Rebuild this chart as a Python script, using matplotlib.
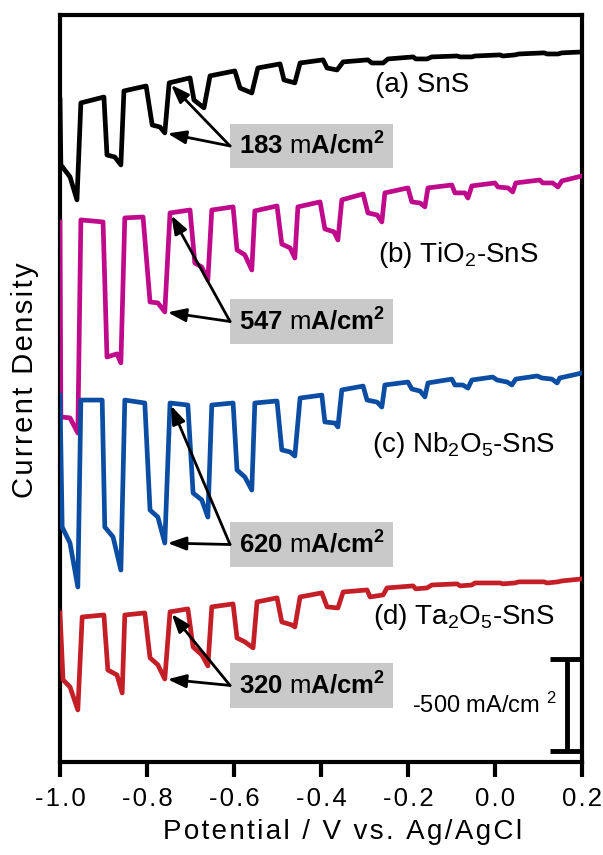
import matplotlib.pyplot as plt
from matplotlib.patches import Rectangle

plt.rcParams['font.family'] = ['Liberation Sans', 'DejaVu Sans']
plt.rcParams['mathtext.fontset'] = 'custom'
plt.rcParams['mathtext.rm'] = 'Liberation Sans'
plt.rcParams['mathtext.it'] = 'Liberation Sans:italic'
plt.rcParams['mathtext.bf'] = 'Liberation Sans:bold'
plt.rcParams['axes.unicode_minus'] = False

# chopped-light scans, potential (V vs Ag/AgCl) and current (mA/cm2, relative to dark level at 0.2 V)
pot_a = [-1.000, -0.998, -0.977, -0.961, -0.952, -0.899, -0.892, -0.874, -0.860, -0.853,
         -0.802, -0.788, -0.770, -0.759, -0.749, -0.701, -0.692, -0.669, -0.655, -0.598,
         -0.586, -0.559, -0.545, -0.494, -0.485, -0.460, -0.448, -0.395, -0.386, -0.363,
         -0.349, -0.292, -0.283, -0.257, -0.246, -0.188, -0.182, -0.156, -0.145, -0.087,
         -0.080, -0.053, -0.046, 0.012, 0.018, 0.046, 0.055, 0.113, 0.120, 0.145, 0.154, 0.200]
cur_a = [-261, -614, -679, -804, -277, -245, -560, -571, -614, -212,
         -185, -397, -408, -440, -168, -141, -261, -304, -130, -103,
         -196, -223, -87, -65, -152, -168, -60, -43, -87, -98,
         -54, -43, -60, -60, -38, -27, -38, -38, -27, -22,
         -27, -27, -22, -16, -22, -16, -11, -5, -11, -11, -5, 0]

pot_b = [-1.000, -0.998, -0.977, -0.959, -0.952, -0.901, -0.892, -0.869, -0.860, -0.851,
         -0.809, -0.793, -0.775, -0.759, -0.747, -0.701, -0.690, -0.674, -0.660, -0.651,
         -0.602, -0.593, -0.575, -0.559, -0.552, -0.501, -0.490, -0.471, -0.460, -0.453,
         -0.402, -0.391, -0.370, -0.361, -0.352, -0.303, -0.292, -0.271, -0.260, -0.253,
         -0.200, -0.191, -0.172, -0.161, -0.154, -0.099, -0.092, -0.069, -0.062, -0.053,
         0.000, 0.007, 0.030, 0.041, 0.048, 0.103, 0.110, 0.133, 0.145, 0.154, 0.200]
cur_b = [-250, -1310, -1315, -1397, -239, -250, -984, -967, -1016, -228,
         -223, -685, -690, -739, -201, -185, -473, -495, -565, -185,
         -168, -402, -429, -511, -190, -163, -370, -391, -446, -168,
         -141, -288, -304, -348, -130, -98, -201, -212, -250, -92,
         -65, -141, -147, -168, -65, -49, -92, -92, -120, -54,
         -38, -60, -65, -87, -38, -22, -38, -38, -60, -27, 0]

pot_c = [-1.000, -0.995, -0.977, -0.959, -0.952, -0.903, -0.897, -0.878, -0.860, -0.851,
         -0.805, -0.793, -0.775, -0.759, -0.747, -0.706, -0.694, -0.674, -0.660, -0.651,
         -0.602, -0.593, -0.575, -0.559, -0.552, -0.501, -0.490, -0.471, -0.460, -0.448,
         -0.398, -0.391, -0.368, -0.361, -0.352, -0.303, -0.294, -0.271, -0.260, -0.253,
         -0.200, -0.191, -0.172, -0.161, -0.154, -0.099, -0.092, -0.074, -0.062, -0.053,
         -0.005, 0.005, 0.028, 0.039, 0.048, 0.097, 0.108, 0.131, 0.143, 0.149, 0.200]
cur_c = [-120, -837, -924, -1163, -147, -147, -837, -891, -1071, -147,
         -163, -745, -783, -924, -163, -174, -652, -690, -783, -174,
         -163, -527, -565, -636, -163, -152, -418, -429, -451, -136,
         -120, -266, -272, -293, -92, -71, -147, -158, -185, -65,
         -49, -87, -98, -130, -54, -33, -65, -65, -82, -38,
         -22, -38, -49, -65, -33, -16, -27, -33, -54, -27, 0]

pot_d = [-1.000, -0.993, -0.977, -0.959, -0.949, -0.899, -0.890, -0.869, -0.857, -0.851,
         -0.805, -0.793, -0.775, -0.759, -0.747, -0.706, -0.694, -0.674, -0.660, -0.651,
         -0.602, -0.593, -0.575, -0.556, -0.547, -0.501, -0.490, -0.467, -0.460, -0.448,
         -0.398, -0.386, -0.361, -0.349, -0.294, -0.287, -0.257, -0.248, -0.188, -0.182,
         -0.156, -0.145, -0.087, -0.080, -0.053, -0.046, 0.012, 0.018, 0.046, 0.055,
         0.113, 0.120, 0.145, 0.154, 0.200]
cur_d = [-185, -549, -587, -712, -207, -196, -495, -522, -620, -196,
         -185, -429, -467, -544, -179, -163, -370, -413, -473, -152,
         -136, -321, -342, -375, -125, -103, -234, -250, -261, -98,
         -76, -152, -158, -71, -60, -98, -87, -49, -38, -54,
         -49, -33, -27, -38, -33, -22, -22, -27, -22, -16,
         -16, -22, -16, -11, 0]

potentials = [pot_a, pot_b, pot_c, pot_d]
currents = [cur_a, cur_b, cur_c, cur_d]
offsets = [3859, 3185, 2114, 995]
names = ['(a) SnS', '(b) TiO$_2$-SnS', '(c) Nb$_2$O$_5$-SnS', '(d) Ta$_2$O$_5$-SnS']
photocurrent = [183, 547, 620, 320]
colors = ['#000000', '#bf0a8b', '#0b4da2', '#c41e26']
scale_bar = 500
xticks = [-1.0, -0.8, -0.6, -0.4, -0.2, 0.0, 0.2]

# placement of labels / boxes, relative to each trace's offset
name_pos = [(-0.276, -180), (-0.269, -429), (-0.283, -391), (-0.281, -207)]
box_y = [-511, -791, -932, -579]
box_x0, box_w, box_h = -0.609, 0.375, 240


def spaced(s):
    # the original uses loose letter spacing
    return '\u200a'.join(s)


fig, ax = plt.subplots(figsize=(6.03, 8.55), dpi=100)
fig.subplots_adjust(left=0.0995, right=0.965, bottom=0.1088, top=0.9825)

for pot, cur, off, col, name, pc, (nx, ny), by in zip(potentials, currents, offsets, colors,
                                                       names, photocurrent, name_pos, box_y):
    y = [c + off for c in cur]
    ax.plot(pot, y, color=col, lw=3.4, zorder=3)
    ax.text(nx, off + ny, name, fontsize=20, va='center', ha='left')
    ax.add_patch(Rectangle((box_x0, off + by - box_h / 2), box_w, box_h,
                           facecolor='#c9c9c9', edgecolor='none', zorder=4))
    ax.text(box_x0 + box_w / 2, off + by, f'{pc} $\\mathrm{{m}}$A/cm$^\\mathbf{{2}}$',
            fontsize=18.5, fontweight='bold', ha='center', va='center', zorder=5)
    # arrows to the top and bottom of the light-on step near -0.75 V
    for i in (14, 13):
        ax.annotate('', xy=(pot[i], y[i]), xytext=(box_x0, off + by),
                    arrowprops=dict(arrowstyle='-|>,head_length=0.55,head_width=0.2',
                                    mutation_scale=20, lw=2, color='black',
                                    shrinkA=0, shrinkB=2),
                    zorder=4)

# scale bar
ax.errorbar(0.1656, scale_bar / 2 + 60, yerr=scale_bar / 2, fmt='none', ecolor='black',
            elinewidth=3.5, capsize=12, capthick=3.5)
ax.text(0.1426, scale_bar / 2 + 60, '-500 mA/cm $^{2}$', fontsize=17, ha='right', va='center')

ax.set_xlim(-1.0, 0.2)
ax.set_ylim(0, 4060)
ax.set_xticks(xticks)
ax.set_xticklabels([spaced(f'{t:.1f}') for t in xticks])
ax.set_yticks([])
ax.tick_params(axis='x', direction='out', length=11, width=3, labelsize=18.5, pad=7)
for s in ax.spines.values():
    s.set_linewidth(3)

ax.set_xlabel(spaced('Potential / V vs. Ag/AgCl'), fontsize=20, va='center')
ax.xaxis.set_label_coords(0.542, -0.094)
ax.set_ylabel(spaced('Current Density'), fontsize=21, va='center')
ax.yaxis.set_label_coords(-0.068, 0.511)

fig.savefig('out.png', dpi=100)
